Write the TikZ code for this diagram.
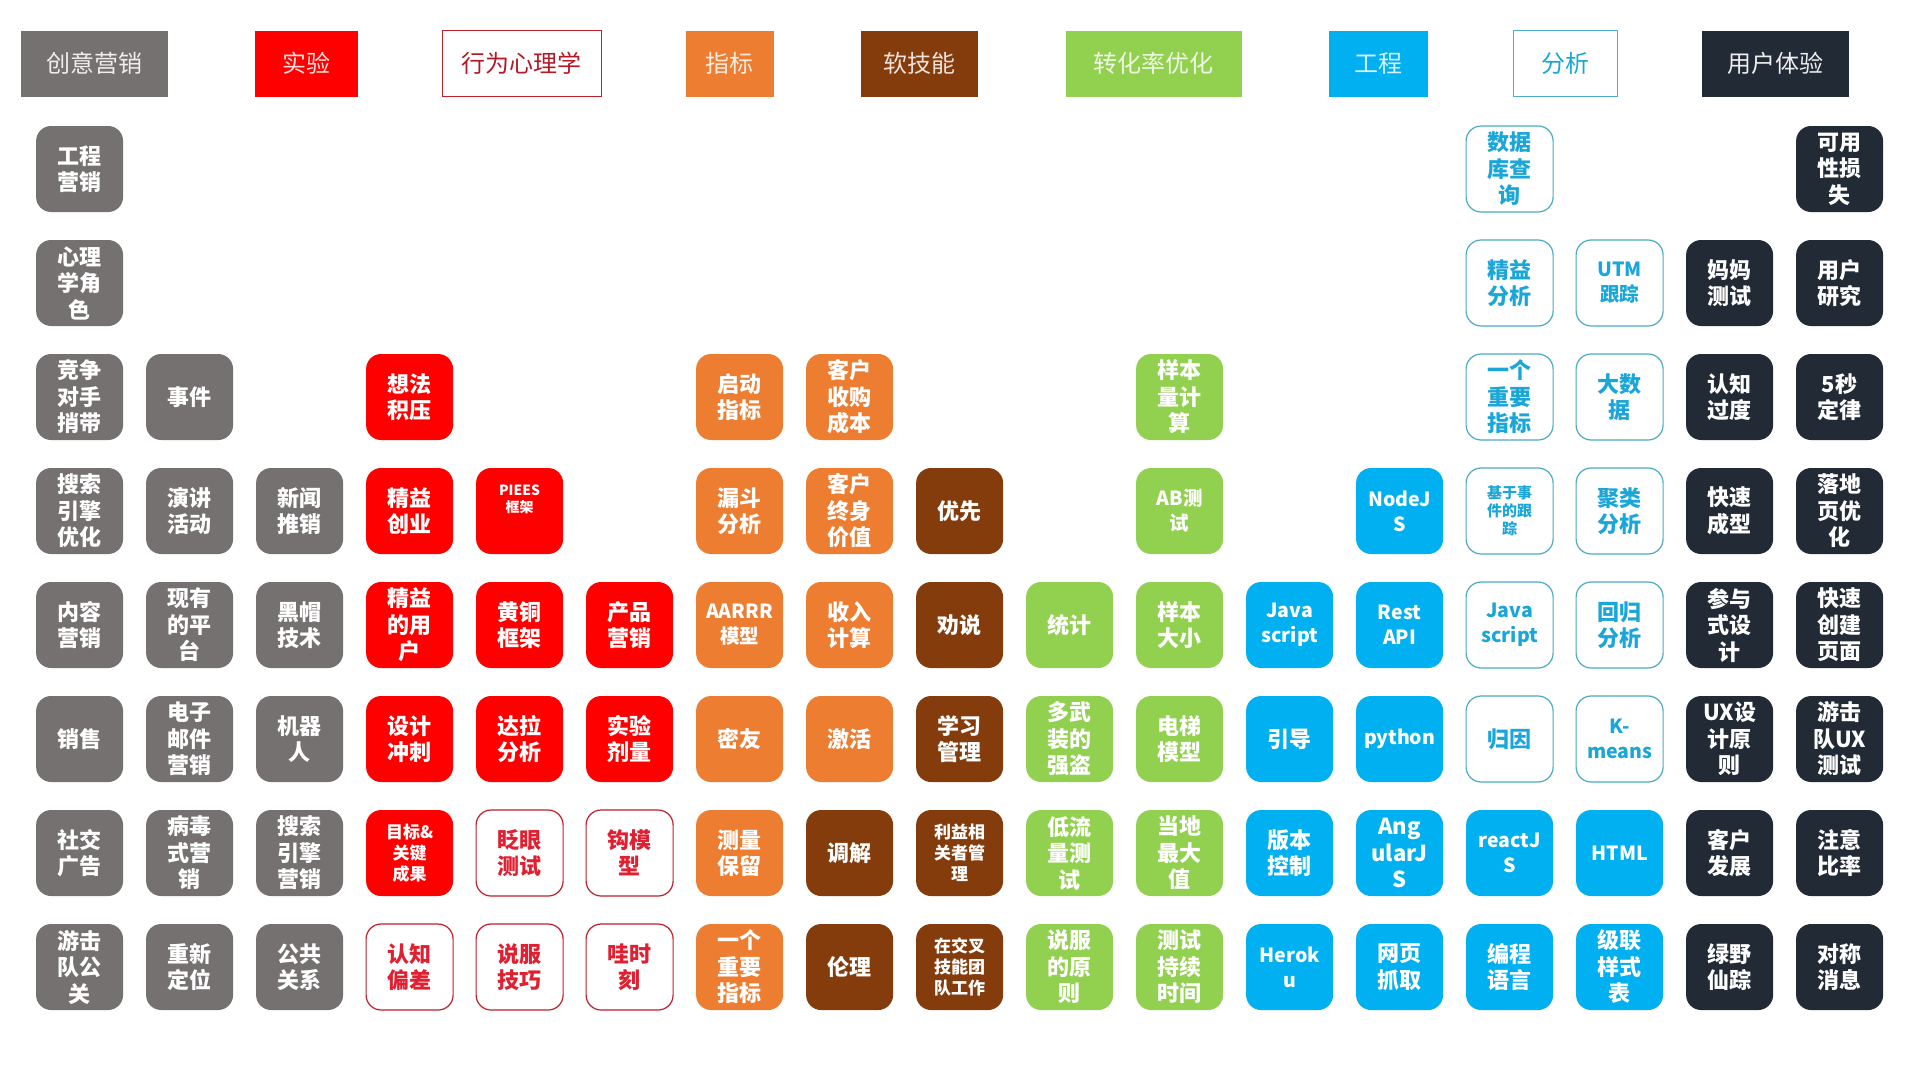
\documentclass[tikz,border=0pt]{standalone}
\usepackage{fontspec}
\setmainfont{Noto Sans CJK SC}
\definecolor{cGray}{HTML}{767171}
\definecolor{cRed}{HTML}{FF0000}
\definecolor{cOrange}{HTML}{ED7D31}
\definecolor{cBrown}{HTML}{843C0C}
\definecolor{cGreen}{HTML}{92D050}
\definecolor{cBlue}{HTML}{00B0F0}
\definecolor{cDark}{HTML}{222A35}
\definecolor{cAnaLine}{HTML}{4BACC6}
\definecolor{cAnaText}{HTML}{1AA6D9}
\definecolor{cPsyLine}{HTML}{C0202A}
\definecolor{cPsyText}{HTML}{E02030}
\newcommand\cellat[4]{\node[#1] (n#2-#3) at ({79.6+110*(#3-1)},{169+114*(#2-1)}) {#4};}
\tikzset{
  cell/.style={rounded corners=15pt, minimum width=87pt, minimum height=86pt,
    inner sep=0pt, align=center, text=white,
    font=\bfseries\fontsize{22}{26.5}\selectfont},
  cmk/.style={cell, fill=cGray},
  exp/.style={cell, fill=cRed},
  psy/.style={cell, draw=cPsyLine, line width=1.2pt, fill=white, text=cPsyText},
  met/.style={cell, fill=cOrange},
  soft/.style={cell, fill=cBrown},
  cro/.style={cell, fill=cGreen},
  eng/.style={cell, fill=cBlue},
  ana/.style={cell, draw=cAnaLine, line width=1.2pt, fill=white, text=cAnaText},
  uxs/.style={cell, fill=cDark},
  head/.style={minimum height=66pt, inner sep=0pt, align=center,
    font=\fontsize{24}{28}\selectfont},
  lat/.style={font=\bfseries\fontsize{19.5}{25}\selectfont},
  small/.style={font=\bfseries\fontsize{17}{21}\selectfont},
}
\begin{document}
\begin{tikzpicture}[x=1pt,y=-1pt]
\useasboundingbox[fill=white] (0,0) rectangle (1920,1080);
% header legend
\node[head, fill=cGray, text=white!88!cGray, minimum width=147pt] (h1) at (94.3,63.7) {创意营销};
\node[head, fill=cRed, text=white!88!cRed, minimum width=103pt] (h2) at (306,63.7) {实验};
\node[head, draw=cPsyLine, line width=1.2pt, fill=white, text=cPsyText!80!black, minimum width=159pt] (h3) at (521.6,63.7) {行为心理学};
\node[head, fill=cOrange, text=white!85!cOrange, minimum width=88pt] (h4) at (729.8,63.7) {指标};
\node[head, fill=cBrown, text=white!85!cBrown, minimum width=117pt] (h5) at (919.6,63.7) {软技能};
\node[head, fill=cGreen, text=white!85!cGreen, minimum width=176pt] (h6) at (1153.5,63.7) {转化率优化};
\node[head, fill=cBlue, text=white!85!cBlue, minimum width=99pt] (h7) at (1378,63.7) {工程};
\node[head, draw=cAnaLine, line width=1.2pt, fill=white, text=cAnaText, minimum width=104pt] (h8) at (1565.5,63.7) {分析};
\node[head, fill=cDark, text=white!92!cDark, minimum width=147pt] (h9) at (1775.6,63.7) {用户体验};
% row 1
\cellat{cmk}{1}{1}{工程\\营销}
\cellat{ana}{1}{14}{数据\\库查\\询}
\cellat{uxs}{1}{17}{可用\\性损\\失}
% row 2
\cellat{cmk}{2}{1}{心理\\学角\\色}
\cellat{ana}{2}{14}{精益\\分析}
\cellat{ana,lat}{2}{15}{UTM\\跟踪}
\cellat{uxs}{2}{16}{妈妈\\测试}
\cellat{uxs}{2}{17}{用户\\研究}
% row 3
\cellat{cmk}{3}{1}{竞争\\对手\\捎带}
\cellat{cmk}{3}{2}{事件}
\cellat{exp}{3}{4}{想法\\积压}
\cellat{met}{3}{7}{启动\\指标}
\cellat{met}{3}{8}{客户\\收购\\成本}
\cellat{cro}{3}{11}{样本\\量计\\算}
\cellat{ana}{3}{14}{一个\\重要\\指标}
\cellat{ana}{3}{15}{大数\\据}
\cellat{uxs}{3}{16}{认知\\过度}
\cellat{uxs}{3}{17}{5秒\\定律}
% row 4
\cellat{cmk}{4}{1}{搜索\\引擎\\优化}
\cellat{cmk}{4}{2}{演讲\\活动}
\cellat{cmk}{4}{3}{新闻\\推销}
\cellat{exp}{4}{4}{精益\\创业}
\cellat{exp,font=\bfseries\fontsize{14}{17}\selectfont}{4}{5}{PIEES\\框架\\[8pt]}
\cellat{met}{4}{7}{漏斗\\分析}
\cellat{met}{4}{8}{客户\\终身\\价值}
\cellat{soft}{4}{9}{优先}
\cellat{cro,lat}{4}{11}{AB测\\试}
\cellat{eng,lat}{4}{13}{NodeJ\\S}
\cellat{ana,font=\bfseries\fontsize{15}{18}\selectfont}{4}{14}{基于事\\件的跟\\踪}
\cellat{ana}{4}{15}{聚类\\分析}
\cellat{uxs}{4}{16}{快速\\成型}
\cellat{uxs}{4}{17}{落地\\页优\\化}
% row 5
\cellat{cmk}{5}{1}{内容\\营销}
\cellat{cmk}{5}{2}{现有\\的平\\台}
\cellat{cmk}{5}{3}{黑帽\\技术}
\cellat{exp}{5}{4}{精益\\的用\\户}
\cellat{exp}{5}{5}{黄铜\\框架}
\cellat{exp}{5}{6}{产品\\营销}
\cellat{met,lat}{5}{7}{AARRR\\模型}
\cellat{met}{5}{8}{收入\\计算}
\cellat{soft}{5}{9}{劝说}
\cellat{cro}{5}{10}{统计}
\cellat{cro}{5}{11}{样本\\大小}
\cellat{eng,lat}{5}{12}{Java\\script}
\cellat{eng,lat}{5}{13}{Rest\\API}
\cellat{ana,lat}{5}{14}{Java\\script}
\cellat{ana}{5}{15}{回归\\分析}
\cellat{uxs}{5}{16}{参与\\式设\\计}
\cellat{uxs}{5}{17}{快速\\创建\\页面}
% row 6
\cellat{cmk}{6}{1}{销售}
\cellat{cmk}{6}{2}{电子\\邮件\\营销}
\cellat{cmk}{6}{3}{机器\\人}
\cellat{exp}{6}{4}{设计\\冲刺}
\cellat{exp}{6}{5}{达拉\\分析}
\cellat{exp}{6}{6}{实验\\剂量}
\cellat{met}{6}{7}{密友}
\cellat{met}{6}{8}{激活}
\cellat{soft}{6}{9}{学习\\管理}
\cellat{cro}{6}{10}{多武\\装的\\强盗}
\cellat{cro}{6}{11}{电梯\\模型}
\cellat{eng}{6}{12}{引导}
\cellat{eng,lat}{6}{13}{python}
\cellat{ana}{6}{14}{归因}
\cellat{ana,lat}{6}{15}{K-\\means}
\cellat{uxs}{6}{16}{UX设\\计原\\则}
\cellat{uxs}{6}{17}{游击\\队UX\\测试}
% row 7
\cellat{cmk}{7}{1}{社交\\广告}
\cellat{cmk}{7}{2}{病毒\\式营\\销}
\cellat{cmk}{7}{3}{搜索\\引擎\\营销}
\cellat{exp,small}{7}{4}{目标\&\\关键\\成果}
\cellat{psy}{7}{5}{眨眼\\测试}
\cellat{psy}{7}{6}{钩模\\型}
\cellat{met}{7}{7}{测量\\保留}
\cellat{soft}{7}{8}{调解}
\cellat{soft,small}{7}{9}{利益相\\关者管\\理}
\cellat{cro}{7}{10}{低流\\量测\\试}
\cellat{cro}{7}{11}{当地\\最大\\值}
\cellat{eng}{7}{12}{版本\\控制}
\cellat{eng}{7}{13}{Ang\\ularJ\\S}
\cellat{eng,lat}{7}{14}{reactJ\\S}
\cellat{eng,lat}{7}{15}{HTML}
\cellat{uxs}{7}{16}{客户\\发展}
\cellat{uxs}{7}{17}{注意\\比率}
% row 8
\cellat{cmk}{8}{1}{游击\\队公\\关}
\cellat{cmk}{8}{2}{重新\\定位}
\cellat{cmk}{8}{3}{公共\\关系}
\cellat{psy}{8}{4}{认知\\偏差}
\cellat{psy}{8}{5}{说服\\技巧}
\cellat{psy}{8}{6}{哇时\\刻}
\cellat{met}{8}{7}{一个\\重要\\指标}
\cellat{soft}{8}{8}{伦理}
\cellat{soft,small}{8}{9}{在交叉\\技能团\\队工作}
\cellat{cro}{8}{10}{说服\\的原\\则}
\cellat{cro}{8}{11}{测试\\持续\\时间}
\cellat{eng,lat}{8}{12}{Herok\\u}
\cellat{eng}{8}{13}{网页\\抓取}
\cellat{eng}{8}{14}{编程\\语言}
\cellat{eng}{8}{15}{级联\\样式\\表}
\cellat{uxs}{8}{16}{绿野\\仙踪}
\cellat{uxs}{8}{17}{对称\\消息}
\end{tikzpicture}
\end{document}
